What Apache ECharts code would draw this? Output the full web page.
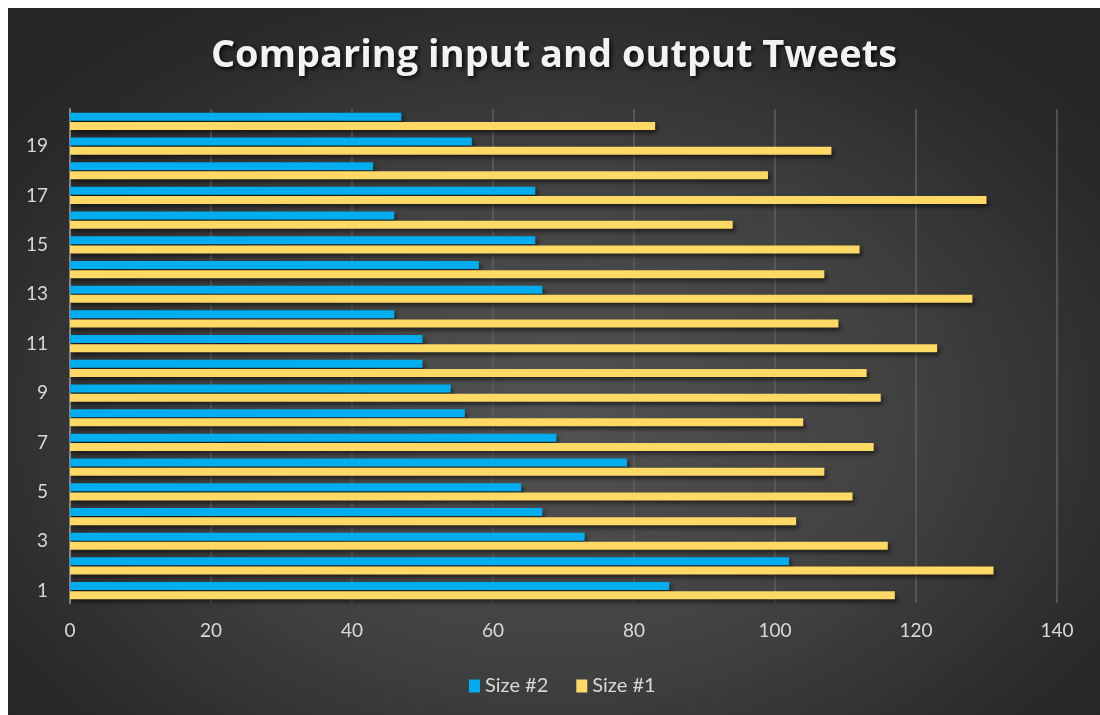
<!DOCTYPE html>
<html>
<head>
<meta charset="utf-8">
<title>Comparing input and output Tweets</title>
<script src="https://cdn.jsdelivr.net/npm/echarts@6/dist/echarts.min.js"></script>
<style>
  html, body { margin: 0; padding: 0; background: #ffffff; }
  #chart {
    position: absolute; left: 8px; top: 8px; width: 1092px; height: 707px;
    background: radial-gradient(ellipse 65% 70% at 50% 58%, #535353 0%, #414141 50%, #2b2b2b 85%, #262626 100%);
  }
</style>
</head>
<body>
<div id="chart"></div>
<script>
// Tweet index (bottom to top)
const categories = ['1','2','3','4','5','6','7','8','9','10','11','12','13','14','15','16','17','18','19','20'];
// Output tweet size
const size2 = [85, 102, 73, 67, 64, 79, 69, 56, 54, 50, 50, 46, 67, 58, 66, 46, 66, 43, 57, 47];
// Input tweet size
const size1 = [117, 131, 116, 103, 111, 107, 114, 104, 115, 113, 123, 109, 128, 107, 112, 94, 130, 99, 108, 83];
const xTicks = { min: 0, max: 140, interval: 20 };

const labelFont = 'Lato, "Open Sans", sans-serif';
const barShadow = {
  shadowColor: 'rgba(0,0,0,0.55)',
  shadowBlur: 4,
  shadowOffsetX: 2,
  shadowOffsetY: 3
};

const chart = echarts.init(document.getElementById('chart'), null, { renderer: 'canvas' });
chart.setOption({
  backgroundColor: 'transparent',
  animation: false,
  title: {
    text: 'Comparing input and output Tweets',
    left: 'center',
    top: 24,
    textStyle: {
      fontFamily: '"Open Sans", sans-serif',
      fontWeight: 'bold',
      fontSize: 38,
      color: '#f2f2f2',
      textShadowColor: 'rgba(0,0,0,0.85)',
      textShadowBlur: 4,
      textShadowOffsetX: 2,
      textShadowOffsetY: 2
    }
  },
  legend: {
    bottom: 14,
    left: 456,
    itemWidth: 11,
    itemHeight: 13,
    itemGap: 28,
    icon: 'rect',
    textStyle: { color: '#d9d9d9', fontSize: 20, fontFamily: labelFont },
    data: ['Size #2', 'Size #1']
  },
  grid: { left: 62, right: 43, top: 101, bottom: 112, containLabel: false },
  xAxis: {
    type: 'value',
    min: xTicks.min,
    max: xTicks.max,
    interval: xTicks.interval,
    axisLine: { show: false },
    axisTick: { show: false },
    axisLabel: { color: '#d9d9d9', fontSize: 19, fontFamily: labelFont, margin: 18 },
    splitLine: { show: true, lineStyle: { color: '#5f5f5f', width: 1.5 } }
  },
  yAxis: {
    type: 'category',
    data: categories,
    axisLine: { show: true, lineStyle: { color: '#8a8a8a', width: 2 } },
    axisTick: { show: false },
    axisLabel: { color: '#d9d9d9', fontSize: 19, fontFamily: labelFont, margin: 22, interval: 1 },
    splitLine: { show: false }
  },
  series: [
    {
      name: 'Size #2',
      type: 'bar',
      data: size2,
      barWidth: 8,
      barGap: '15%',
      itemStyle: Object.assign({ color: '#00aeef' }, barShadow)
    },
    {
      name: 'Size #1',
      type: 'bar',
      data: size1,
      barWidth: 8,
      barGap: '15%',
      itemStyle: Object.assign({ color: '#ffd966' }, barShadow)
    }
  ]
});
</script>
</body>
</html>
